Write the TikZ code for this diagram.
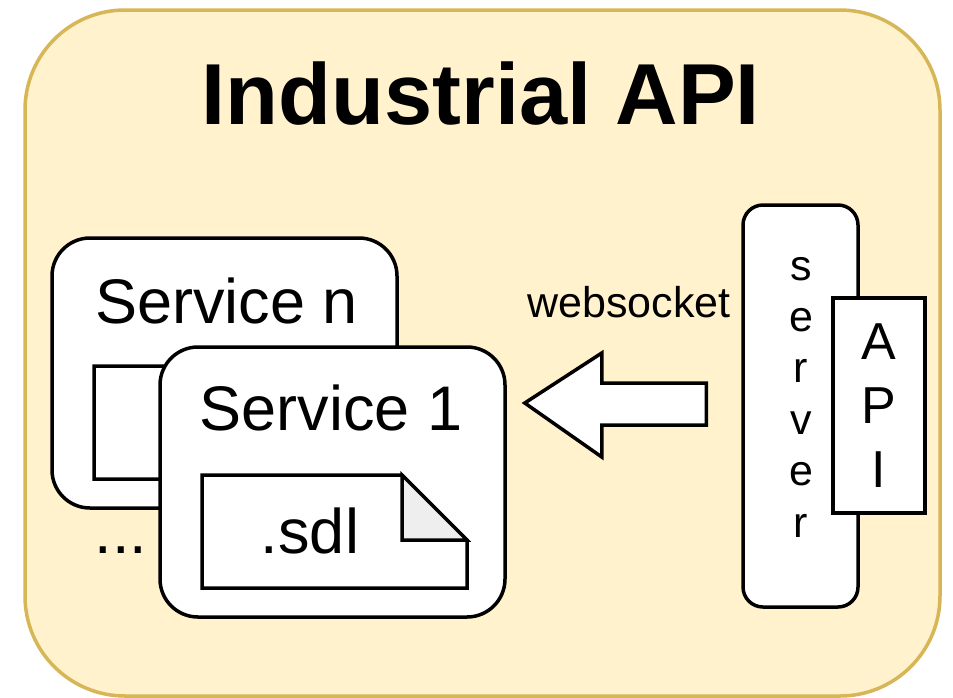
\documentclass[tikz,border=0pt]{standalone}
\usepackage{fontspec}
\setmainfont{Liberation Sans}
\usetikzlibrary{calc}
\definecolor{panelfill}{HTML}{FFF2CC}
\definecolor{paneldraw}{HTML}{D6B656}
\definecolor{foldgray}{HTML}{EEEEEE}
\begin{document}
\begin{tikzpicture}[x=1pt,y=-1pt,line join=miter,
  panel/.style={draw=paneldraw,fill=panelfill,line width=3.5pt,rounded corners=100pt,inner sep=0pt},
  svcbox/.style={draw=black,fill=white,line width=3.5pt,rounded corners=38pt,
    minimum width=345pt,minimum height=270pt,inner sep=0pt},
  docline/.style={draw=black,fill=white,line width=3.5pt},
  docfold/.style={draw=black,fill=foldgray,line width=3.5pt},
  bigtext/.style={font=\fontsize{63}{75}\selectfont,inner sep=0pt},
  midtext/.style={font=\fontsize{43}{51.4}\selectfont,inner sep=0pt},
  blockarrow/.style={draw=black,fill=white,line width=3.5pt},
  serverbox/.style={draw=black,fill=white,line width=3.5pt,rounded corners=20pt,
    minimum width=115pt,minimum height=402pt,inner sep=0pt},
  apibox/.style={draw=black,fill=white,line width=3.5pt,
    minimum width=92pt,minimum height=215pt,inner sep=0pt}]
\useasboundingbox (0,0) rectangle (953,697);

% outer panel
\node[panel,minimum width=915pt,minimum height=686pt] (panel) at (482.5,353) {};
\node[anchor=base,inner sep=0pt,font=\bfseries\fontsize{86.6}{100}\selectfont] (title) at (481,124) {Industrial API};

% service n (behind)
\node[svcbox] (svcn) at (224.5,373) {};
\node[bigtext,anchor=base] (svcnlabel) at (226.5,323) {Service n};
\draw[docline] (94,366) -- (294,366) -- (359,431) -- (359,479) -- (94,479) -- cycle;
\draw[docfold] (294,366) -- (294,431) -- (359,431) -- cycle;

% service 1 (front)
\node[svcbox] (svc1) at (332.5,482) {};
\node[bigtext,anchor=base] (svc1label) at (331,430) {Service 1};
\draw[docline] (202,475) -- (402,475) -- (467,540) -- (467,588) -- (202,588) -- cycle;
\draw[docfold] (402,475) -- (402,540) -- (467,540) -- cycle;
\node[bigtext,anchor=base] (sdl) at (310,553) {.sdl};

\node[bigtext,anchor=base] (dots) at (121,553) {...};

% server with API
\node[serverbox] (server) at (800.5,406) {};
\node[midtext,align=center] (srvtxt) at (801,397) {s\\e\\r\\v\\e\\r};
\node[apibox] (api) at (879,405.5) {};
\node[inner sep=0pt,align=center,font=\fontsize{52}{64}\selectfont] (apitxt) at (879,405.5) {A\\P\\I};

% websocket block arrow from server to service 1
\coordinate (tail) at ($(server.west)+(-35,-3)$);
\coordinate (tip) at ($(svc1.east)+(18,-79)$);
\draw[blockarrow] (tip) -- ++(77,-50) -- ++(0,30) -- ($(tail)+(0,-20)$) -- ($(tail)+(0,22)$)
  -- ($(tip)+(77,22)$) -- ++(0,32) -- cycle;
\node[midtext,anchor=base] (ws) at (629,317) {websocket};
\end{tikzpicture}
\end{document}
